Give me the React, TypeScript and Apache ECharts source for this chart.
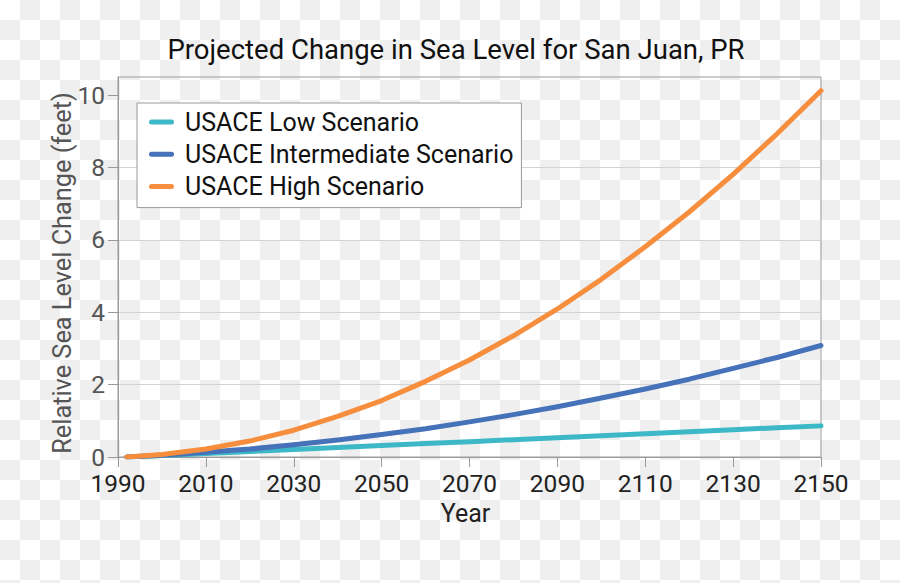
import React, { useEffect, useRef } from "react";
import * as echarts from "echarts";

const years = [1992, 2000, 2010, 2020, 2030, 2040, 2050, 2060, 2070, 2080, 2090, 2100, 2110, 2120, 2130, 2140, 2150];
const lowScenario = [0, 0.04, 0.1, 0.15, 0.21, 0.26, 0.32, 0.37, 0.42, 0.48, 0.53, 0.59, 0.64, 0.7, 0.75, 0.81, 0.86];
const intermediateScenario = [0, 0.05, 0.13, 0.22, 0.34, 0.47, 0.62, 0.78, 0.97, 1.17, 1.39, 1.63, 1.88, 2.15, 2.45, 2.75, 3.08];
const highScenario = [0, 0.07, 0.22, 0.44, 0.74, 1.12, 1.56, 2.09, 2.68, 3.35, 4.09, 4.91, 5.81, 6.77, 7.81, 8.93, 10.12];
const xTicks = [1990, 2010, 2030, 2050, 2070, 2090, 2110, 2130, 2150];
const yTicks = [0, 2, 4, 6, 8, 10];
const seriesNames = ["USACE Low Scenario", "USACE Intermediate Scenario", "USACE High Scenario"];
const seriesColors = ["#3cb8c6", "#4572b9", "#f68e3e"];

const FONT = "Roboto";

export default function App() {
  const ref = useRef<HTMLDivElement>(null);
  useEffect(() => {
    if (!ref.current) return;
    const chart = echarts.init(ref.current, null, { renderer: "svg" });
    const all = [lowScenario, intermediateScenario, highScenario];
    const capsule = "path://M2.5,0 L22.5,0 A2.5,2.5 0 0 1 22.5,5 L2.5,5 A2.5,2.5 0 0 1 2.5,0 Z";
    chart.setOption({
      animation: false,
      backgroundColor: "transparent",
      title: {
        text: "Projected Change in Sea Level for San Juan, PR",
        left: 456,
        textAlign: "center",
        top: 35,
        padding: 0,
        textStyle: { fontFamily: FONT, fontSize: 27.5, fontWeight: "normal", color: "#111" },
      },
      legend: {
        orient: "vertical",
        left: 137,
        top: 103,
        padding: [5, 8, 7, 12],
        backgroundColor: "#ffffff",
        borderColor: "#999",
        borderWidth: 1,
        borderRadius: 0,
        itemWidth: 25,
        itemHeight: 5,
        itemGap: 4.3,
        icon: capsule,
        data: seriesNames,
        textStyle: { fontFamily: FONT, fontSize: 25, color: "#111", lineHeight: 28, padding: [0, 0, 0, 6] },
      },
      grid: {
        left: 118,
        right: 79,
        top: 77,
        bottom: 126,
        show: true,
        borderColor: "#9a9a9a",
        borderWidth: 1,
        containLabel: false,
      },
      xAxis: {
        type: "value",
        min: 1990,
        max: 2150,
        name: "Year",
        nameLocation: "middle",
        nameGap: 44,
        nameTextStyle: { fontFamily: FONT, fontSize: 25, color: "#222", padding: [0, 8, 0, 0] },
        axisLine: { show: true, lineStyle: { color: "#9a9a9a", width: 1 } },
        axisTick: { show: true, length: 10, customValues: xTicks, lineStyle: { color: "#9a9a9a" } },
        axisLabel: {
          customValues: xTicks,
          margin: 14,
          fontFamily: FONT,
          fontSize: 24.5,
          color: "#222",
          formatter: (v: number) => String(v),
        },
        splitLine: { show: false },
      },
      yAxis: {
        type: "value",
        min: 0,
        max: 10.5,
        interval: 2,
        name: "Relative Sea Level Change (feet)",
        nameLocation: "middle",
        nameGap: 43,
        nameMoveOverlap: false,
        nameTextStyle: { fontFamily: FONT, fontSize: 25.3, color: "#555", padding: [0, 12, 0, 0] },
        axisLine: { show: true, lineStyle: { color: "#9a9a9a", width: 1 } },
        axisTick: { show: true, length: 10, customValues: yTicks, lineStyle: { color: "#9a9a9a" } },
        axisLabel: { customValues: yTicks, margin: 13, fontFamily: FONT, fontSize: 24.5, color: "#555" },
        splitLine: { show: true, showMinLine: false, showMaxLine: false, lineStyle: { color: "#d2d2d2", width: 1 } },
      },
      series: all.map((vals, i) => ({
        name: seriesNames[i],
        type: "line",
        data: years.map((y, j) => [y, vals[j]]),
        showSymbol: false,
        symbol: "none",
        color: seriesColors[i],
        lineStyle: { width: 5, color: seriesColors[i], cap: "round", join: "round" },
      })),
    });
    return () => chart.dispose();
  }, []);
  return (
    <div
      ref={ref}
      style={{
        position: "absolute",
        left: 0,
        top: 0,
        width: 900,
        height: 583,
        background: "repeating-conic-gradient(#efefef 0 25%, #ffffff 0 50%) 0 0 / 40px 40px",
      }}
    />
  );
}
